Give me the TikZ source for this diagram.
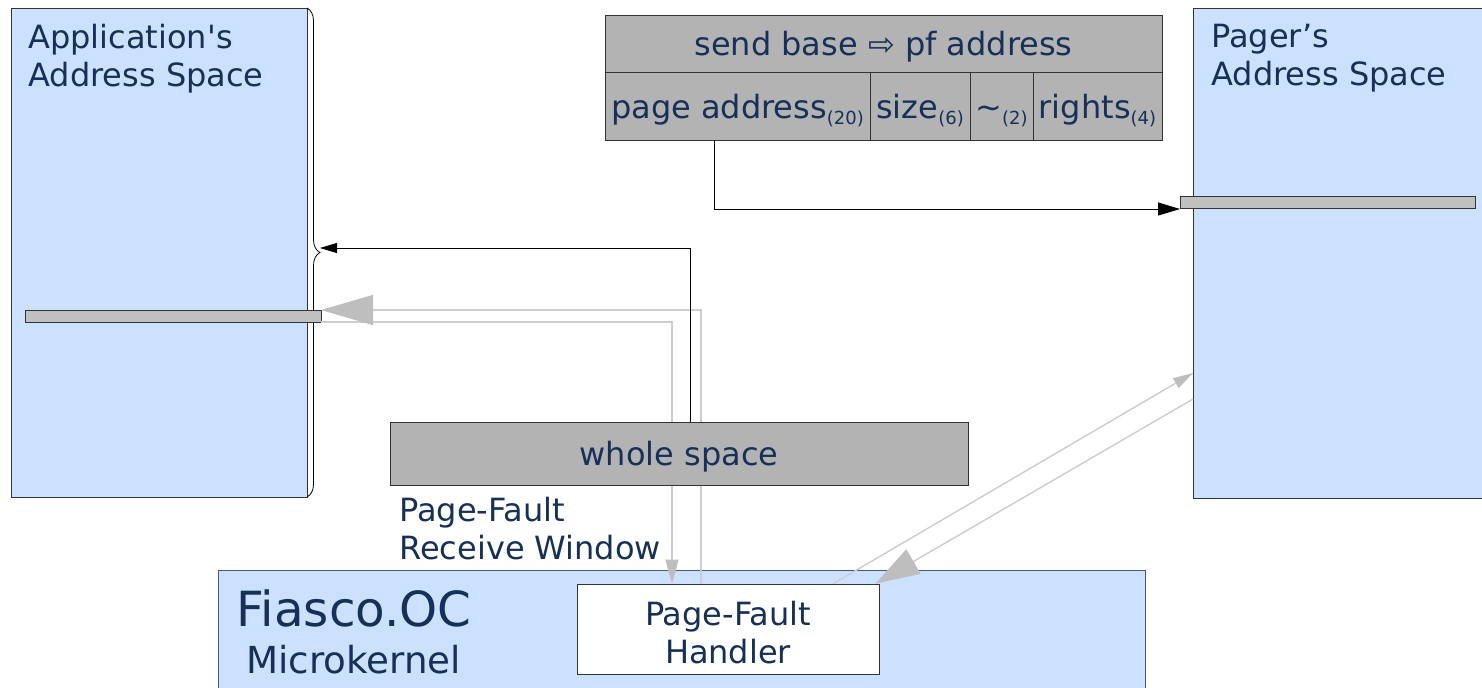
\documentclass[tikz,border=0pt]{standalone}
\usepackage{fontspec}
\setmainfont{DejaVu Sans}
\usetikzlibrary{positioning, arrows.meta, decorations.pathreplacing}
\definecolor{spaceblue}{RGB}{204,224,255}
\definecolor{navytext}{RGB}{22,48,88}
\definecolor{tablegray}{RGB}{179,179,179}
\definecolor{bargray}{RGB}{192,192,192}
\definecolor{linegray}{RGB}{205,205,205}
\definecolor{headgray}{RGB}{190,190,190}
\newcommand{\sub}[1]{\raisebox{-3pt}{\fontsize{9}{9}\selectfont #1}}

\begin{document}
\begin{tikzpicture}[x=0.5pt,y=-0.5pt,font=\fontsize{16}{19}\selectfont,text=navytext]
        \tikzstyle{space}=[draw=black!80, fill=spaceblue, rectangle, inner sep=0, outer sep=0]
        \tikzstyle{bar}=[draw=black!80, fill=bargray, rectangle, minimum height=6pt, inner sep=0, outer sep=0]
        \tikzstyle{cell}=[draw=black!80, fill=tablegray, rectangle, inner sep=0, outer sep=0, text height=16pt, text depth=3.8pt]
        \tikzstyle{txt}=[align=left, inner sep=0, anchor=north west]
        \tikzstyle{gline}=[draw=linegray, line width=0.7pt]
        \useasboundingbox (0,0) rectangle (1482,687);
        % address spaces
        \node[space, minimum width=148pt, minimum height=244.5pt] (app) at (159,252.5) {};
        \node[txt] (apptxt) at (28,24) {Application\textquotesingle s\\Address Space};
        \coordinate (bracetip) at (320,248);
        \draw[decorate, decoration={brace, amplitude=6.5pt}] (app.north east) -- (app.south east);
        \node[bar, minimum width=148pt] (appbar) at (173,316) {};
        \node[space, minimum width=144.5pt, minimum height=245pt] (pager) at (1337.5,253) {};
        \node[txt] (pagertxt) at (1211,24) {Pager’s\\Address Space};
        \node[bar, minimum width=147.5pt] (pagerbar) at (1327.5,202) {};
        % kernel
        \node[space, draw=navytext!80, minimum width=463.5pt, minimum height=65pt] (fiasco) at (681.5,635) {};
        \node[anchor=base west, inner sep=0, font=\fontsize{24.2}{28}\selectfont] (fiascotxt) at (236,626) {Fiasco.OC};
        \node[anchor=base west, inner sep=0, font=\fontsize{18.6}{22}\selectfont] (mktxt) at (246,673) {Microkernel};
        \node[draw=black!80, fill=white, minimum width=151pt, minimum height=45pt, inner sep=0] (handler) at (728,629) {};
        \node[align=center, inner sep=0] (handlertxt) at ([yshift=-2pt]handler.center) {Page-Fault\\Handler};
        % page fault and reply
        \draw[gline, -{Triangle[length=12pt,width=6.5pt,color=headgray]}] (appbar.south east) -| ([xshift=-28pt]handler.north);
        \draw[gline, -{Triangle[length=26pt,width=15pt,color=headgray]}] ([xshift=-13.5pt]handler.north) |- ([yshift=3pt]appbar.east);
        \draw[gline, -{Triangle[length=10pt,width=5.5pt,color=headgray]}] ([xshift=-23pt]handler.north east) -- ([yshift=-60pt]pager.west);
        \draw[gline, -{Triangle[length=22pt,width=14pt,color=headgray]}] ([yshift=-73pt]pager.west) -- ([xshift=-2pt]handler.north east);
        % receive window
        \node[cell, minimum width=289pt, minimum height=31.5pt] (whole) at (679,453.5) {whole space};
        \node[txt] (recv) at (399,497) {Page-Fault\\Receive Window};
        % send item
        \node[cell, minimum width=278.5pt, minimum height=28.5pt] (sendbase) at (883.5,43.5) {send base ⇨ pf address};
        \node[cell, minimum width=132.5pt, minimum height=34pt, anchor=north west] (pa) at (sendbase.south west) {page address\sub{(20)}};
        \node[cell, minimum width=50pt, minimum height=34pt] (size) [right=0pt of pa] {size\sub{(6)}};
        \node[cell, minimum width=31.5pt, minimum height=34pt] (tilde) [right=0pt of size] {\textasciitilde\sub{(2)}};
        \node[cell, minimum width=64.5pt, minimum height=34pt] (rights) [right=0pt of tilde] {rights\sub{(4)}};
        \draw[-{Triangle[length=11pt,width=6.5pt]}] ([xshift=-11.75pt]pa.south) |- ([yshift=-3.5pt]pagerbar.west);
        \draw[-{Triangle[length=8.5pt,width=5pt]}] ([xshift=5.5pt]whole.north) |- (bracetip);
    \end{tikzpicture}
\end{document}
